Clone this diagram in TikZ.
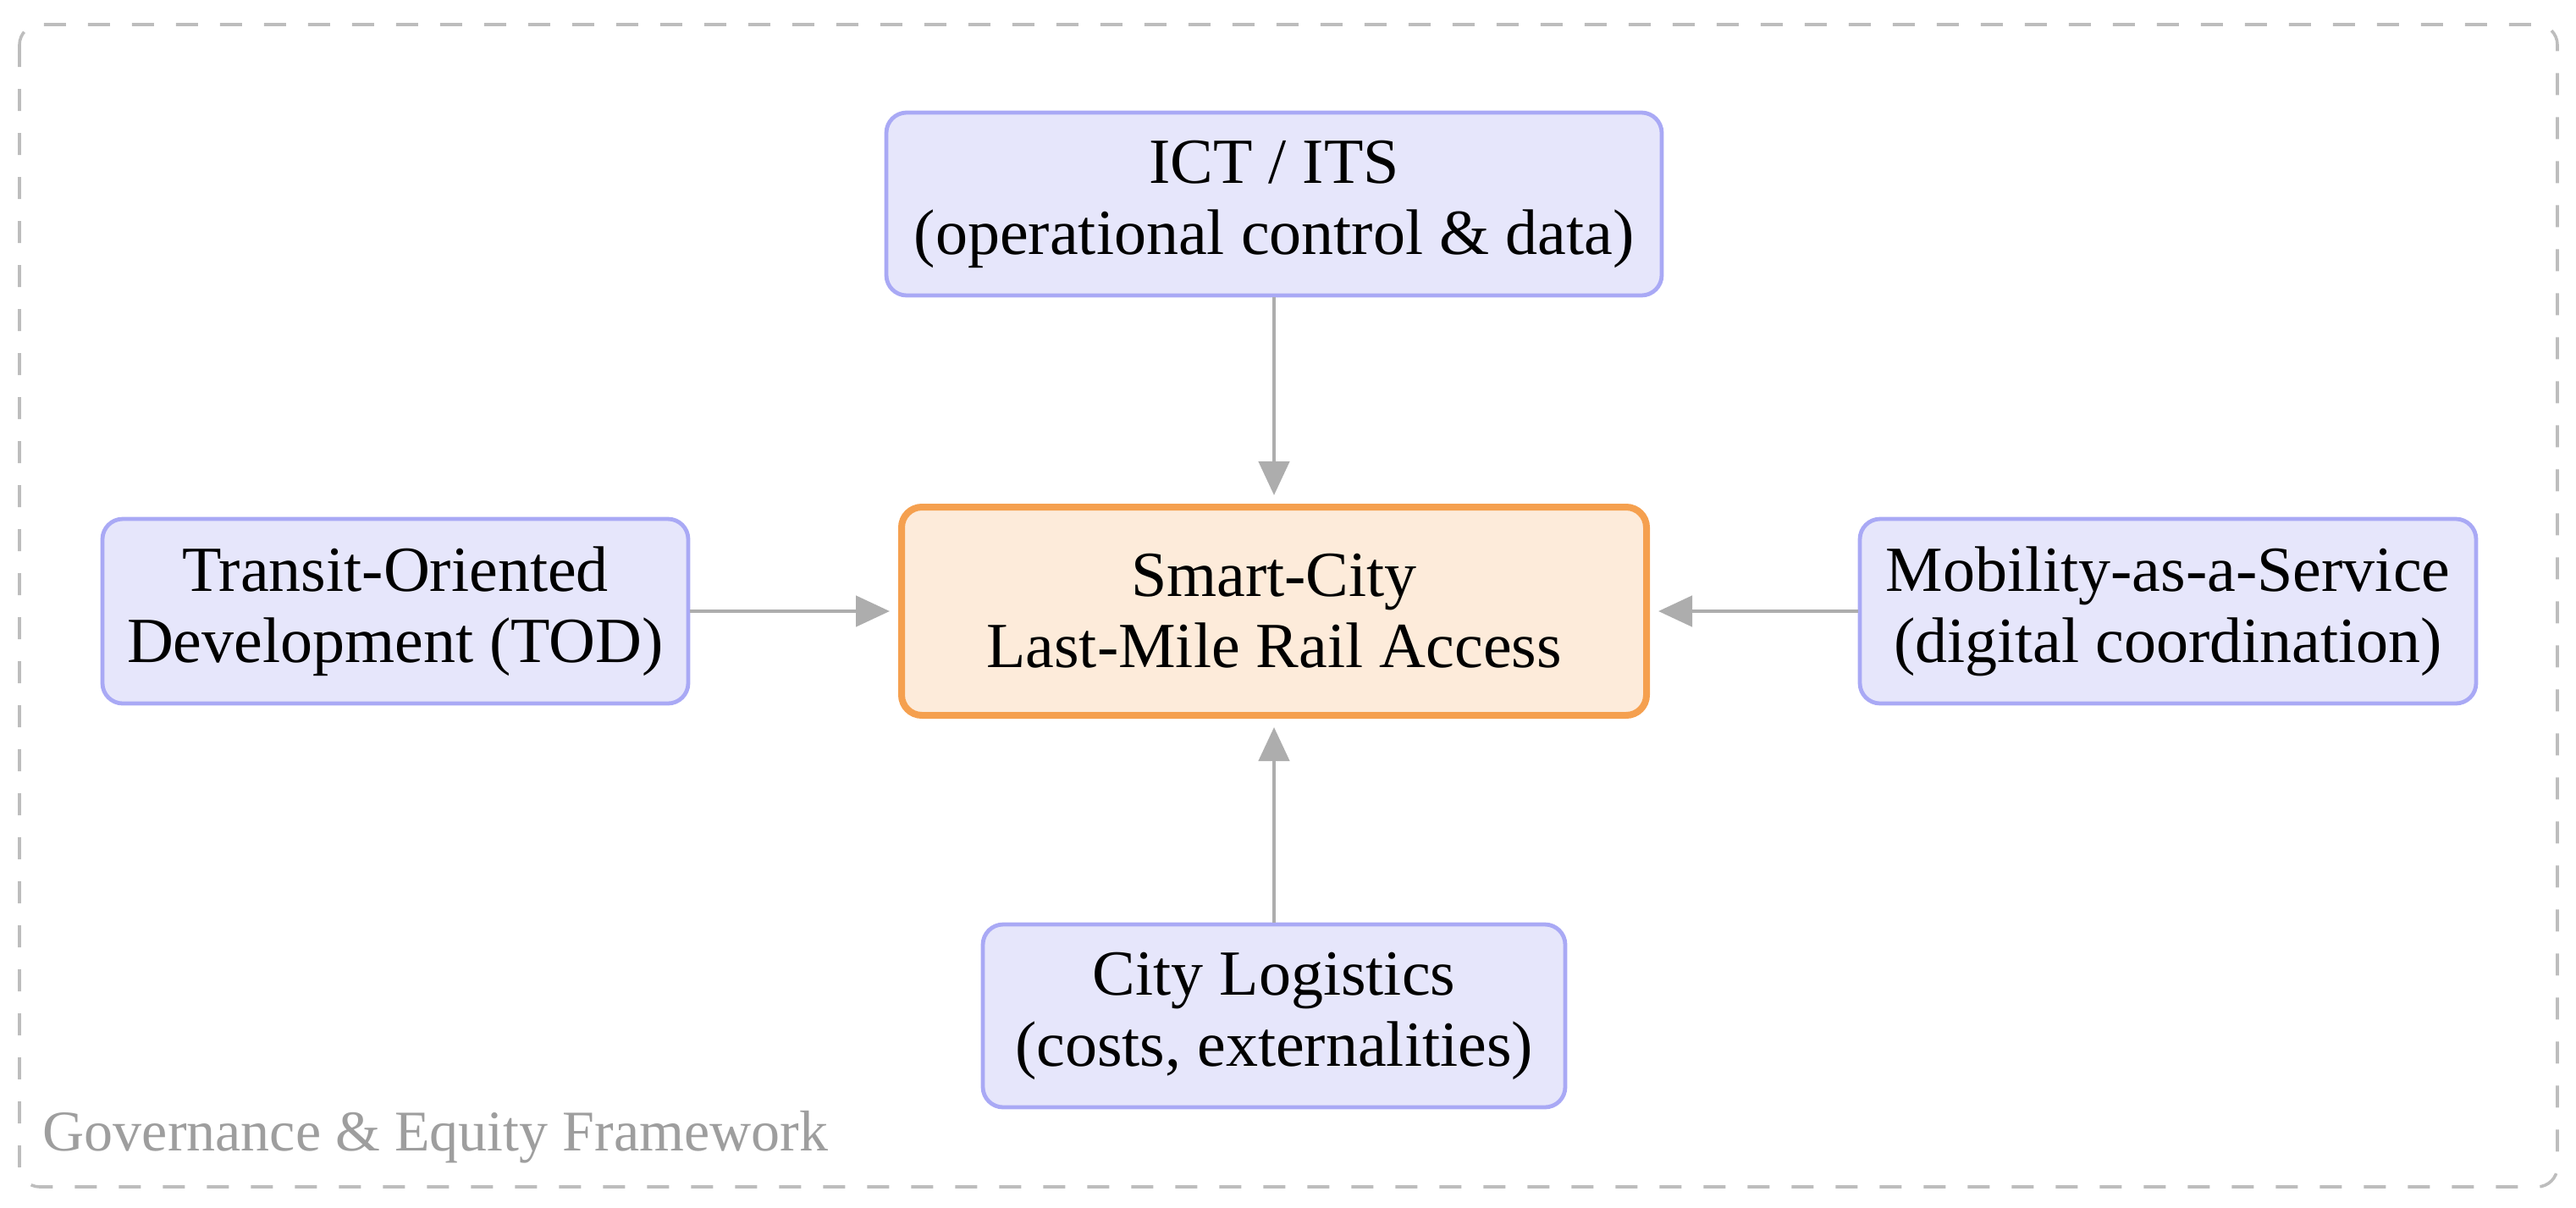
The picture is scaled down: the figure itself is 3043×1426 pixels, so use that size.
\documentclass[tikz,border=0pt]{standalone}
\usepackage{fontspec}
\setmainfont{Liberation Serif}
\usetikzlibrary{arrows.meta}
\definecolor{boxfill}{HTML}{E6E6FB}
\definecolor{boxdraw}{HTML}{A9A9F5}
\definecolor{corefill}{HTML}{FDEBDA}
\definecolor{coredraw}{HTML}{F5A04F}
\definecolor{arrowgray}{HTML}{ADADAD}
\definecolor{framegray}{HTML}{BDBDBD}
\definecolor{labelgray}{HTML}{9E9E9E}
\begin{document}
\begin{tikzpicture}[x=0.25pt,y=-0.25pt,
  factorbox/.style={draw=boxdraw,fill=boxfill,line width=1.2pt,rounded corners=6pt,
    align=center,inner sep=0pt,font=\fontsize{19}{21}\selectfont},
  corebox/.style={draw=coredraw,fill=corefill,line width=2pt,rounded corners=6pt,
    align=center,inner sep=0pt,font=\fontsize{19}{21}\selectfont},
  link/.style={draw=arrowgray,line width=1.2pt,-{Triangle[length=10pt,width=9pt]},shorten >=2.5pt}]
\useasboundingbox (0,0) rectangle (3043,1426);
\draw[framegray,line width=0.9pt,dash pattern=on 6.5pt off 6.5pt,rounded corners=6pt]
  (23,29) rectangle (3021,1402);
\node[corebox,minimum width=220pt,minimum height=61.5pt] (core) at (1505,722)
  {Smart-City\\Last-Mile Rail Access};
\node[factorbox,minimum width=229pt,minimum height=54pt] (ict) at (1505,241)
  {ICT / ITS\\(operational control \& data)};
\node[factorbox,minimum width=173pt,minimum height=54.5pt] (tod) at (467,722)
  {Transit-Oriented\\Development (TOD)};
\node[factorbox,minimum width=182pt,minimum height=54.5pt] (maas) at (2561,722)
  {Mobility-as-a-Service\\(digital coordination)};
\node[factorbox,minimum width=172pt,minimum height=54pt] (city) at (1505,1200)
  {City Logistics\\(costs, externalities)};
\node[anchor=west,inner sep=0pt,text=labelgray,font=\fontsize{17}{20}\selectfont] (gov)
  at (50,1343) {Governance \& Equity Framework};
\draw[link] (ict) -- (core);
\draw[link] (tod) -- (core);
\draw[link] (maas) -- (core);
\draw[link] (city) -- (core);
\end{tikzpicture}
\end{document}
